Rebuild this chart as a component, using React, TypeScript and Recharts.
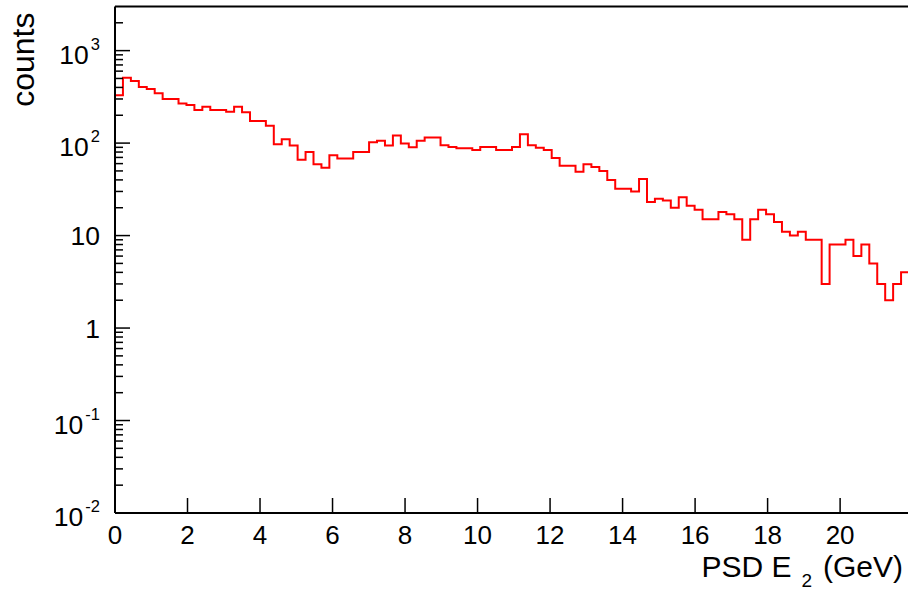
import React from "react";
import { LineChart, Line, XAxis, YAxis, ReferenceLine } from "recharts";

// histogram: 100 bins from 0 to 21.9 GeV
const BIN_WIDTH = 0.219;
const X_MAX = 21.9;

const counts = [
  330, 510, 470, 405, 385, 345, 300, 300, 268, 258,
  228, 247, 228, 228, 218, 247, 215, 173, 173, 154,
  97, 110, 94, 66, 80, 59, 54, 74, 68, 68,
  80, 80, 102, 106, 94, 121, 99, 90, 106, 115,
  115, 95, 91, 88, 88, 84, 91, 91, 84, 84,
  91, 125, 95, 89, 84, 69, 57, 57, 49, 59,
  55, 50, 40, 32, 32, 30, 41, 23, 25, 24,
  20, 26, 21, 19, 15, 15, 18, 17, 15, 9,
  15, 19, 17, 14, 11, 10, 11, 9, 9, 3,
  8, 8, 9, 6, 8, 5, 3, 2, 3, 4,
];

const xTicks = [0, 2, 4, 6, 8, 10, 12, 14, 16, 18, 20];
const yMajor = [0.01, 0.1, 1, 10, 100, 1000];
const yMinorMult = [2, 3, 4, 5, 6, 7, 8, 9];
const yLabels: Record<string, [string, string]> = {
  "0.01": ["10", "-2"],
  "0.1": ["10", "-1"],
  "1": ["1", ""],
  "10": ["10", ""],
  "100": ["10", "2"],
  "1000": ["10", "3"],
};

const data = counts.map((c, i) => ({ x: +(i * BIN_WIDTH).toFixed(4), y: c }));
data.push({ x: X_MAX, y: counts[counts.length - 1] });

const yTicks = [
  ...yMajor,
  ...yMajor.flatMap((d) => yMinorMult.map((m) => +(m * d).toPrecision(3))).filter((v) => v < 3000),
].sort((a, b) => a - b);

const FONT = "'Liberation Sans', Arial, Helvetica, sans-serif";

// eslint-disable-next-line @typescript-eslint/no-explicit-any
const YTick = ({ x, y, payload }: any) => {
  const v = payload.value;
  const lab = yLabels[String(v)];
  return (
    <g>
      <line x1={x} x2={x + (lab ? 15 : 8)} y1={y} y2={y} stroke="#000" strokeWidth={1.5} />
      {lab && (
        <text
          x={x - 15}
          y={y + (lab[1] ? 13 : 9.5)}
          textAnchor="end"
          fontSize={26.5}
          fontFamily={FONT}
          fill="#000"
        >
          {lab[0]}
          {lab[1] && (
            <tspan fontSize={16.5} dx={2} dy={-14}>
              {lab[1]}
            </tspan>
          )}
        </text>
      )}
    </g>
  );
};

// eslint-disable-next-line @typescript-eslint/no-explicit-any
const XTick = ({ x, y, payload }: any) => (
  <g>
    <line x1={x} x2={x} y1={y} y2={y - 15} stroke="#000" strokeWidth={1.5} />
    <text x={x} y={y + 31} textAnchor="middle" fontSize={26} fontFamily={FONT} fill="#000">
      {payload.value}
    </text>
  </g>
);

// eslint-disable-next-line @typescript-eslint/no-explicit-any
const XTitle = ({ viewBox }: any) => (
  <text
    x={viewBox.x + viewBox.width - 6}
    y={viewBox.y + 64}
    textAnchor="end"
    fontSize={30}
    fontFamily={FONT}
    fill="#000"
  >
    PSD E
    <tspan fontSize={19} dx={10} dy={10}>2</tspan>
    <tspan dx={11} dy={-10}>(GeV)</tspan>
  </text>
);

// eslint-disable-next-line @typescript-eslint/no-explicit-any
const YTitle = ({ viewBox }: any) => {
  const x = viewBox.x + 33.5;
  const y = viewBox.y + 6;
  return (
    <text
      x={x}
      y={y}
      transform={`rotate(-90 ${x} ${y})`}
      textAnchor="end"
      fontSize={32}
      fontFamily={FONT}
      fill="#000"
    >
      counts
    </text>
  );
};

export default function App() {
  return (
    <div
      style={{
        position: "absolute",
        left: 0,
        top: 0,
        width: 908,
        height: 592,
        overflow: "hidden",
        background: "#fff",
      }}
    >
      <LineChart
        width={930}
        height={592}
        data={data}
        margin={{ top: 6.5, right: 21, left: 0, bottom: 0 }}
      >
        <XAxis
          type="number"
          dataKey="x"
          domain={[0, X_MAX]}
          allowDataOverflow
          ticks={xTicks}
          interval={0}
          tickSize={0}
          tickMargin={0}
          tickLine={false}
          tick={<XTick />}
          axisLine={{ stroke: "#000", strokeWidth: 2 }}
          height={79}
          label={XTitle}
        />
        <YAxis
          type="number"
          scale="log"
          domain={[0.01, 3000]}
          allowDataOverflow
          ticks={yTicks}
          interval={0}
          tickSize={0}
          tickMargin={0}
          tickLine={false}
          tick={<YTick />}
          axisLine={{ stroke: "#000", strokeWidth: 2 }}
          width={115}
          label={YTitle}
        />
        <ReferenceLine y={3000} stroke="#000" strokeWidth={2} ifOverflow="visible" />
        <ReferenceLine x={X_MAX} stroke="#000" strokeWidth={2} ifOverflow="visible" />
        <Line
          type="stepAfter"
          dataKey="y"
          stroke="#ff0000"
          strokeWidth={2}
          dot={false}
          isAnimationActive={false}
        />
      </LineChart>
    </div>
  );
}
